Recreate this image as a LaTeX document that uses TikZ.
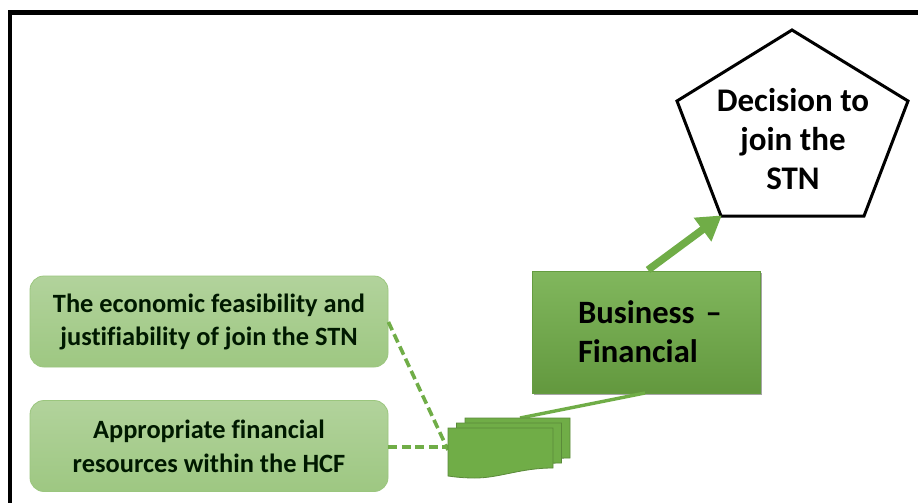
\documentclass[tikz,border=0pt]{standalone}
\usepackage{fontspec}
\setmainfont[Ligatures=NoCommon]{Carlito}
\usetikzlibrary{shadows,arrows.meta}
\definecolor{gA}{HTML}{70AD47}
\tikzset{
  x=1pt,y=-1pt,
  softbox/.style={draw=gA!70!white,line width=.8pt,rounded corners=14pt,top color=gA!54!white,bottom color=gA!68!white,
    minimum width=358pt,minimum height=91pt,inner sep=0pt,align=center,font=\fontsize{26.4}{34}\selectfont\bfseries,text=black!90!green},
  bizbox/.style={top color=gA!88!white,bottom color=gA!88!black,draw=gA!90!black,line width=.5pt,
    minimum width=228pt,minimum height=122pt,inner sep=0pt,align=left,font=\fontsize{32.6}{39}\selectfont\bfseries,
    drop shadow={shadow xshift=1.5pt,shadow yshift=-1.5pt,opacity=.35,fill=black}},
  decisiontext/.style={align=center,inner sep=0pt,font=\fontsize{33}{39}\selectfont\bfseries},
  doclayer/.style={fill=gA,draw=gA!80!black,line width=.8pt},
  dashlink/.style={draw=gA,line width=3.6pt,dash pattern=on 9pt off 4.5pt},
  solidlink/.style={draw=gA,line width=3.4pt},
  thicklink/.style={draw=gA,line width=7.5pt,-{Triangle[length=24pt,width=28pt]},shorten >=-1pt},
}
\begin{document}
\begin{tikzpicture}
\useasboundingbox (0,0) rectangle (918,503);
\fill[white] (0,0) rectangle (918,503);
\draw[black,line width=4.4pt] (10,503) -- (10,12.5) -- (918,12.5);

\node[softbox] (econ) at (209,321.5) {\raisebox{-2pt}{The economic feasibility and}\\\raisebox{-1pt}{justifiability of join the STN}};
\node[softbox] (fin) at (209,446) {Appropriate financial\\resources within the HCF};
\node[bizbox,text width=136pt] (biz) at (646,332) {\mbox{Business --}\\Financial};

\coordinate (p1) at (792,30);
\coordinate (p2) at (908,101);
\coordinate (p3) at (864,216);
\coordinate (p4) at (721,216);
\coordinate (p5) at (677,101);
\draw[black,line width=3pt,line join=miter,fill=white] (p1) -- (p2) -- (p3) -- (p4) -- (p5) -- cycle;
\node[decisiontext] (dec) at (793,139) {Decision to\\join the\\STN};

\coordinate (bizout) at (648,270);
\draw[thicklink] (bizout) -- (p4);

\coordinate (docin) at (448,450);
\coordinate (docleft) at (447,447);
\coordinate (doctop) at (520,418);
\coordinate (bizin) at (645,393);
\draw[solidlink] (bizin) -- (doctop);
\draw[dashlink] (econ.east |- 0,322) -- (docin);
\draw[dashlink] (fin.east |- 0,447) -- (docleft);

\draw[doclayer] (465,418) -- (570,418) -- (570,458) .. controls (545,458) and (535,462) .. (510,466) -- (465,466) -- cycle;
\draw[doclayer] (456.5,423) -- (561.5,423) -- (561.5,463) .. controls (536,463) and (526,467) .. (500,471) -- (456.5,471) -- cycle;
\draw[doclayer] (448,428) -- (553,428) -- (553,468) .. controls (520,468) and (500,478) .. (475,478) .. controls (463,478) and (455,477) .. (448,476) -- cycle;
\end{tikzpicture}
\end{document}
